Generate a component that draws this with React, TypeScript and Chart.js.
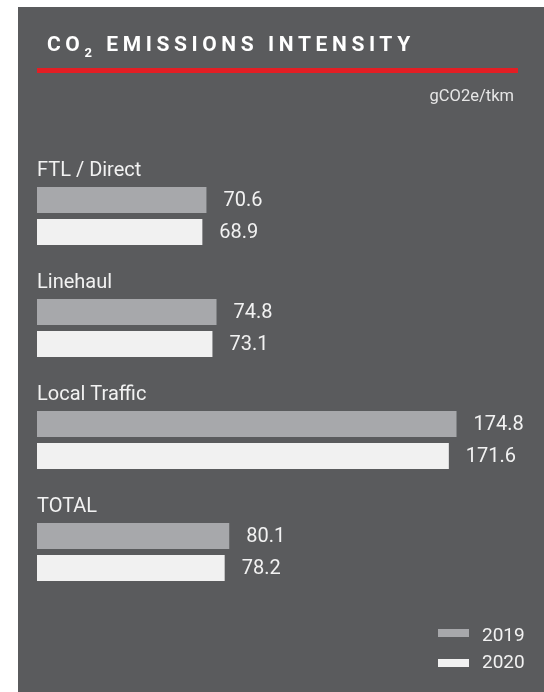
import React, { useEffect, useRef } from "react";
import { Chart, registerables } from "chart.js";

Chart.register(...registerables);

const categories = ["FTL / Direct", "Linehaul", "Local Traffic", "TOTAL"];
const values2019 = [70.6, 74.8, 174.8, 80.1];
const values2020 = [68.9, 73.1, 171.6, 78.2];
const seriesLabels = ["2019", "2020"];
const unitLabel = "gCO2e/tkm";
const xMin = 0;
const xMax = 200;

const BG = "#5a5b5d";
const C2019 = "#a7a8ab";
const C2020 = "#f1f1f1";
const TEXT = "#f2f2f2";
const RED = "#e31e24";
const FONT = "Roboto, 'Noto Sans', sans-serif";

const labelPlugin = {
  id: "customLabels",
  afterDatasetsDraw(chart: any) {
    const ctx = chart.ctx;
    const yScale = chart.scales.y;
    const area = chart.chartArea;
    ctx.save();
    ctx.fillStyle = TEXT;
    ctx.textAlign = "left";
    ctx.textBaseline = "middle";
    ctx.font = `20px ${FONT}`;
    categories.forEach((c, i) => {
      const y = yScale.getPixelForValue(i);
      ctx.fillText(c, area.left, y - 45);
    });
    ctx.font = `20px ${FONT}`;
    chart.data.datasets.forEach((ds: any, di: number) => {
      const meta = chart.getDatasetMeta(di);
      meta.data.forEach((el: any, i: number) => {
        const v = ds.data[i] as number;
        ctx.fillText(v.toFixed(1), el.x + 17, el.y + 1);
      });
    });
    ctx.restore();
  },
};

export default function App() {
  const ref = useRef<HTMLCanvasElement | null>(null);
  useEffect(() => {
    if (!ref.current) return;
    const chart = new Chart(ref.current, {
      type: "bar",
      data: {
        labels: categories,
        datasets: [
          {
            label: seriesLabels[0],
            data: values2019,
            backgroundColor: C2019,
            categoryPercentage: 64 / 112,
            barPercentage: 26 / 32,
          },
          {
            label: seriesLabels[1],
            data: values2020,
            backgroundColor: C2020,
            categoryPercentage: 64 / 112,
            barPercentage: 26 / 32,
          },
        ],
      },
      options: {
        indexAxis: "y",
        responsive: false,
        animation: false,
        devicePixelRatio: 1,
        layout: { padding: { left: 19, right: 27, top: 153, bottom: 84 } },
        plugins: { legend: { display: false }, tooltip: { enabled: false } },
        scales: {
          x: { display: false, min: xMin, max: xMax },
          y: { display: false },
        },
      },
      plugins: [labelPlugin],
    });
    return () => chart.destroy();
  }, []);

  const legendText: React.CSSProperties = {
    position: "absolute",
    left: 482 - 18,
    fontFamily: FONT,
    fontSize: 19,
    lineHeight: "19px",
    color: TEXT,
    whiteSpace: "nowrap",
  };
  const legendBox: React.CSSProperties = {
    position: "absolute",
    left: 438 - 18,
    width: 31,
    height: 8,
  };

  return (
    <div
      style={{
        position: "absolute",
        left: 18,
        top: 7,
        width: 526,
        height: 685,
        background: BG,
        overflow: "hidden",
      }}
    >
      <canvas
        ref={ref}
        width={526}
        height={685}
        style={{ position: "absolute", left: 0, top: 0, width: 526, height: 685, display: "block" }}
      />
      <div
        style={{
          position: "absolute",
          left: 47 - 18,
          top: 52 - 7 - 17.7,
          fontFamily: FONT,
          fontWeight: 700,
          fontSize: 21,
          lineHeight: "21px",
          letterSpacing: "4.6px",
          color: "#ffffff",
          whiteSpace: "nowrap",
        }}
      >
        CO
        <span style={{ fontSize: 13, position: "relative", top: 6 }}>2</span> EMISSIONS INTENSITY
      </div>
      <div
        style={{
          position: "absolute",
          left: 37 - 18,
          top: 68 - 7,
          width: 518 - 37,
          height: 5,
          background: RED,
        }}
      />
      <div
        style={{
          position: "absolute",
          right: 544 - 514,
          top: 102 - 7 - 14,
          fontFamily: FONT,
          fontSize: 16.5,
          lineHeight: "16.5px",
          color: "#e6e6e6",
          whiteSpace: "nowrap",
        }}
      >
        {unitLabel}
      </div>
      <div style={{ ...legendBox, top: 629 - 7, background: C2019 }} />
      <div style={{ ...legendText, top: 641 - 7 - 16 }}>{seriesLabels[0]}</div>
      <div style={{ ...legendBox, top: 659 - 7, background: C2020 }} />
      <div style={{ ...legendText, top: 668 - 7 - 16 }}>{seriesLabels[1]}</div>
    </div>
  );
}
